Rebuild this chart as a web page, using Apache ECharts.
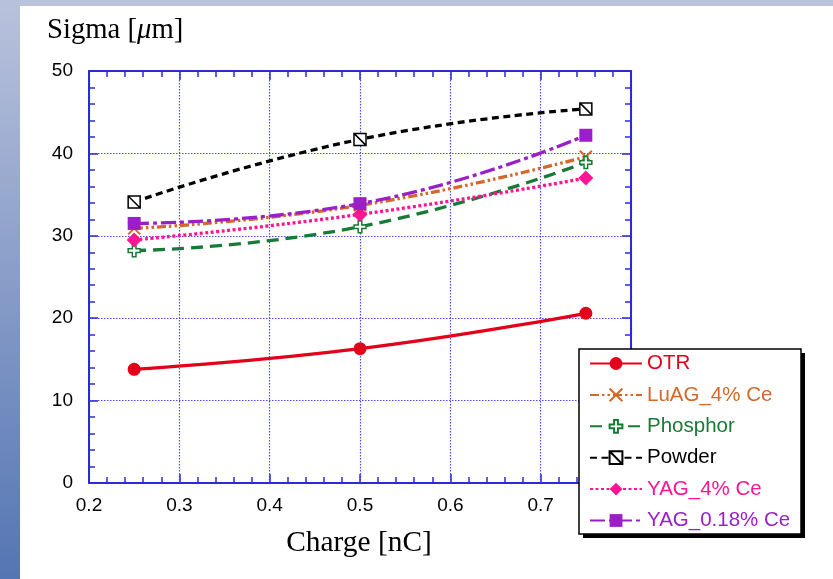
<!DOCTYPE html>
<html><head><meta charset="utf-8">
<script src="https://cdn.jsdelivr.net/npm/echarts@6/dist/echarts.min.js"></script>
<style>
html,body{margin:0;padding:0;width:833px;height:579px;overflow:hidden;background:#fff;}
#bgTop{position:absolute;left:0;top:0;width:833px;height:6px;background:#bac3dc;}
#bgLeft{position:absolute;left:0;top:0;width:20px;height:579px;background:linear-gradient(#b9c2dc,#5475b3);}
#chart{position:absolute;left:0;top:0;width:833px;height:579px;}
</style></head><body>
<div id="bgTop"></div><div id="bgLeft"></div><div id="chart"></div>
<script>
// ---- data ----
const charge = [0.25, 0.5, 0.75];
const otr = [13.8, 16.3, 20.6];
const luag = [30.9, 33.7, 39.6];
const phosphor = [28.2, 31.1, 38.9];
const powder = [34.1, 41.7, 45.4];
const yag4 = [29.5, 32.6, 37.0];
const yag018 = [31.5, 33.9, 42.2];
const seriesNames = ['OTR', 'LuAG_4% Ce', 'Phosphor', 'Powder', 'YAG_4% Ce', 'YAG_0.18% Ce'];
const xTickLabels = ['0.2', '0.3', '0.4', '0.5', '0.6', '0.7'];
const yTickLabels = ['0', '10', '20', '30', '40', '50'];
const xTitle = 'Charge [nC]';

// ---- styles ----
const colors = ['#e3001b', '#d2692a', '#187a34', '#000000', '#ff1493', '#9a1fc9'];
const axisBlue = '#2b2bd6';
const gridBlue = '#4a4af0';

function pairs(vals) { return charge.map((c, i) => [c, vals[i]]); }

const seriesDefs = [
  { vals: otr, dash: 'solid', symbol: 'circle', size: 13, fill: colors[0], border: colors[0], bw: 0 },
  { vals: luag, dash: [9, 3, 2.5, 3, 2.5, 3], symbol: 'path://M0,0L10,10M10,0L0,10', size: 12, fill: 'none', border: colors[1], bw: 2 },
  { vals: phosphor, dash: [12, 7], symbol: 'path://M3.5,0H6.5V3.5H10V6.5H6.5V10H3.5V6.5H0V3.5H3.5Z', size: 12, fill: '#fff', border: colors[2], bw: 1.5 },
  { vals: powder, dash: [7, 4.5], symbol: 'path://M0,0H10V10H0Z M0,0L10,10', size: 12, fill: '#fff', border: '#000', bw: 1.5 },
  { vals: yag4, dash: [3, 2.5], symbol: 'diamond', size: 15, fill: colors[4], border: colors[4], bw: 0 },
  { vals: yag018, dash: [15, 4, 4, 4], symbol: 'rect', size: 13, fill: colors[5], border: colors[5], bw: 0 }
];

const series = seriesDefs.map((d, i) => ({
  name: seriesNames[i],
  type: 'line',
  xAxisIndex: 0, yAxisIndex: 0,
  data: pairs(d.vals),
  smooth: true,
  symbol: d.symbol,
  symbolSize: d.size,
  showAllSymbol: true,
  lineStyle: { color: colors[i], width: 3.3, type: d.dash },
  itemStyle: { color: d.fill, borderColor: d.border, borderWidth: d.bw, opacity: 1 },
  emphasis: { disabled: true },
  z: 3 + i
}));

const chart = echarts.init(document.getElementById('chart'), null, { renderer: 'canvas' });

const commonTick = { show: true, inside: true, length: 9, lineStyle: { color: axisBlue, width: 1.5 } };
const commonMinor = { show: true, splitNumber: 5, length: 6, lineStyle: { color: axisBlue, width: 1.5 } };
const commonAxisLine = { show: true, onZero: false, lineStyle: { color: axisBlue, width: 2 } };
const labelFont = { fontFamily: 'Liberation Sans', fontSize: 19, color: '#000' };

chart.setOption({
  animation: false,
  grid: { left: 89, top: 71, width: 542, height: 412 },
  xAxis: [
    {
      type: 'value', min: 0.2, max: 0.8, interval: 0.1, position: 'bottom',
      axisLine: commonAxisLine, axisTick: commonTick, minorTick: commonMinor,
      splitLine: { show: true, lineStyle: { color: gridBlue, width: 1.2, type: [1.5, 1.5] } },
      axisLabel: Object.assign({ margin: 13, formatter: v => { const i = Math.round((v - 0.2) * 10); return xTickLabels[i] || ''; } }, labelFont)
    },
    {
      type: 'value', min: 0.2, max: 0.8, interval: 0.1, position: 'top',
      axisLine: commonAxisLine, axisTick: commonTick, minorTick: commonMinor,
      splitLine: { show: false }, axisLabel: { show: false }
    }
  ],
  yAxis: [
    {
      type: 'value', min: 0, max: 50, interval: 10, position: 'left',
      axisLine: commonAxisLine, axisTick: commonTick, minorTick: commonMinor,
      splitLine: { show: true, lineStyle: { color: gridBlue, width: 1.2, type: [1.5, 1.5] } },
      axisLabel: Object.assign({ margin: 16, formatter: v => yTickLabels[Math.round(v / 10)] }, labelFont)
    },
    {
      type: 'value', min: 0, max: 50, interval: 10, position: 'right',
      axisLine: commonAxisLine, axisTick: commonTick, minorTick: commonMinor,
      splitLine: { show: false }, axisLabel: { show: false }
    }
  ],
  legend: {
    orient: 'vertical', left: 579, top: 349, z: 30,
    padding: [4, 10, 4, 10], itemGap: 10.4, itemWidth: 52, itemHeight: 16,
    selectedMode: false,
    textStyle: { fontFamily: 'Liberation Sans', fontSize: 20.5, lineHeight: 20 },
    data: seriesNames.map((n, i) => ({ name: n, textStyle: { color: colors[i] } }))
  },
  graphic: [
    { type: 'rect', z: 20, shape: { x: 583, y: 353, width: 222, height: 185 }, style: { fill: '#000' } },
    { type: 'rect', z: 21, shape: { x: 579, y: 349, width: 222, height: 185 }, style: { fill: '#fff', stroke: '#000', lineWidth: 1.5 } },
    {
      type: 'text', left: 47, top: 16,
      style: {
        text: '{a|Sigma [}{b|μ}{a|m]}',
        rich: {
          a: { fontFamily: 'Liberation Serif', fontSize: 28.7, fill: '#000' },
          b: { fontFamily: 'Liberation Serif', fontSize: 28.7, fontStyle: 'italic', fill: '#000' }
        }
      }
    },
    {
      type: 'text', x: 359, y: 543,
      style: { text: xTitle, fontFamily: 'Liberation Serif', fontSize: 29.4, fill: '#000', align: 'center', verticalAlign: 'middle' }
    }
  ],
  series: series
});
</script></body></html>
